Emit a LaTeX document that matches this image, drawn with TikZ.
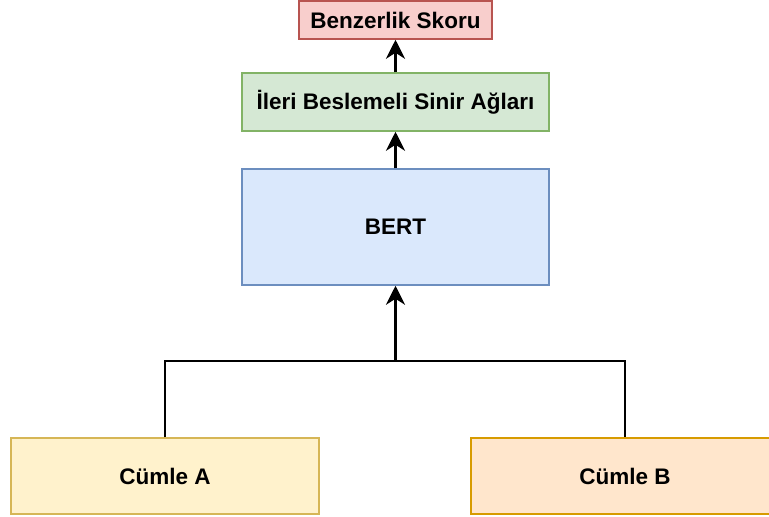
\documentclass[tikz,border=0pt]{standalone}
\usepackage{fontspec}
\setmainfont{Liberation Sans}
\usetikzlibrary{arrows.meta}
\definecolor{redfill}{HTML}{F8CECC}\definecolor{redline}{HTML}{B85450}
\definecolor{greenfill}{HTML}{D5E8D4}\definecolor{greenline}{HTML}{82B366}
\definecolor{bluefill}{HTML}{DAE8FC}\definecolor{blueline}{HTML}{6C8EBF}
\definecolor{yellowfill}{HTML}{FFF2CC}\definecolor{yellowline}{HTML}{D6B656}
\definecolor{orangefill}{HTML}{FFE6CC}\definecolor{orangeline}{HTML}{D79B00}
\tikzset{
  box/.style={draw, line width=1.5pt, inner sep=0pt, align=center,
    font=\fontsize{22.5}{27}\selectfont\bfseries},
  headtip/.tip={Stealth[length=19pt,width=19pt,inset=6pt]},
  uparrow/.style={line width=3pt, -headtip},
  joinline/.style={line width=2.2pt},
}
\begin{document}
\begin{tikzpicture}[x=1pt,y=-1pt]
\useasboundingbox (0,0) rectangle (769,517);
\node[box, fill=redfill, draw=redline, minimum width=193pt, minimum height=38pt] (score) at (395.5,20) {Benzerlik Skoru};
\node[box, fill=greenfill, draw=greenline, minimum width=307pt, minimum height=58pt] (ffn) at (395.5,102) {İleri Beslemeli Sinir Ağları};
\node[box, fill=bluefill, draw=blueline, minimum width=307pt, minimum height=116pt] (bert) at (395.5,227) {BERT};
\node[box, fill=yellowfill, draw=yellowline, minimum width=308pt, minimum height=76pt] (sa) at (165,476) {Cümle A};
\node[box, fill=orangefill, draw=orangeline, minimum width=308pt, minimum height=76pt] (sb) at (625,476) {Cümle B};
\coordinate (join) at (395.5,361);
\draw[joinline] (sa.north) |- (join) -| (sb.north);
\draw[joinline, -headtip] (join) -- (bert.south);
\draw[uparrow] (bert.north) -- (ffn.south);
\draw[uparrow] (ffn.north) -- (score.south);
\end{tikzpicture}
\end{document}
